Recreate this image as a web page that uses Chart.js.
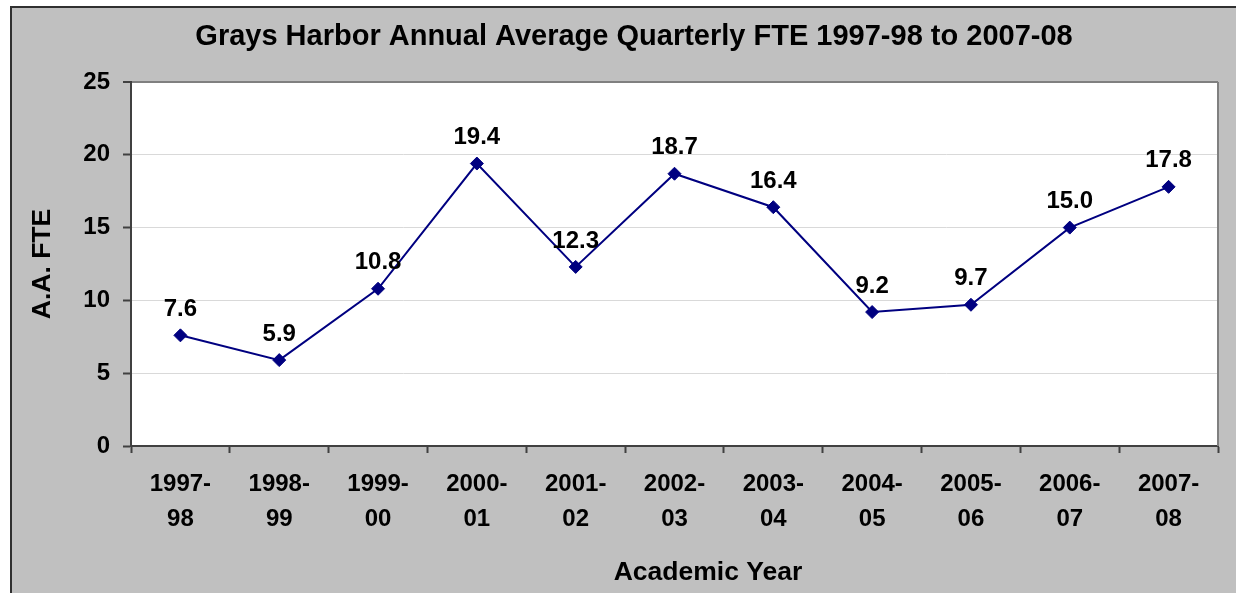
<!DOCTYPE html>
<html>
<head>
<meta charset="utf-8">
<script src="https://cdn.jsdelivr.net/npm/chart.js@4.4.0/dist/chart.umd.min.js"></script>
<style>
    html, body { margin: 0; padding: 0; background: #ffffff; }
    #chart { display: block; }
</style>
</head>
<body>
<canvas id="chart" width="1236" height="593"></canvas>
<script>
// ========================================
// Data
// ========================================
const years = [
    ['1997-', '98'], ['1998-', '99'], ['1999-', '00'], ['2000-', '01'],
    ['2001-', '02'], ['2002-', '03'], ['2003-', '04'], ['2004-', '05'],
    ['2005-', '06'], ['2006-', '07'], ['2007-', '08']
];
const fteValues = [7.6, 5.9, 10.8, 19.4, 12.3, 18.7, 16.4, 9.2, 9.7, 15.0, 17.8];
const yTicks = [0, 5, 10, 15, 20, 25];

const chartTitle = 'Grays Harbor Annual Average Quarterly FTE 1997-98 to 2007-08';
const xTitle = 'Academic Year';
const yTitle = 'A.A. FTE';

const FONT = '"Liberation Sans", Arial, sans-serif';
const NAVY = '#000080';

// Background, frame, plot area, titles
const framePlugin = {
    id: 'frame',
    beforeDraw(chart) {
        const { ctx, chartArea: a } = chart;
        ctx.save();
        ctx.fillStyle = '#ffffff';
        ctx.fillRect(0, 0, chart.width, chart.height);
        ctx.fillStyle = '#C0C0C0';
        ctx.fillRect(11, 7, chart.width, chart.height);
        ctx.strokeStyle = '#303030';
        ctx.lineWidth = 2;
        ctx.beginPath();
        ctx.moveTo(11, chart.height);
        ctx.lineTo(11, 7);
        ctx.lineTo(chart.width, 7);
        ctx.stroke();
        ctx.fillStyle = '#ffffff';
        ctx.fillRect(a.left, a.top, a.right - a.left, a.bottom - a.top);
        ctx.restore();
    },
    afterDraw(chart) {
        const { ctx, chartArea: a } = chart;
        ctx.save();
        // right edge of plot area
        ctx.strokeStyle = '#808080';
        ctx.lineWidth = 2;
        ctx.beginPath();
        ctx.moveTo(a.right, a.top);
        ctx.lineTo(a.right, a.bottom);
        ctx.stroke();

        ctx.fillStyle = '#000000';
        ctx.textAlign = 'center';
        ctx.textBaseline = 'middle';
        ctx.font = 'bold 29px ' + FONT;
        ctx.fillText(chartTitle, 634, 37);
        ctx.font = 'bold 26.5px ' + FONT;
        ctx.fillText(xTitle, 708, 573);
        ctx.translate(43, (a.top + a.bottom) / 2);
        ctx.rotate(-Math.PI / 2);
        ctx.fillText(yTitle, 0, 0);
        ctx.restore();
    }
};

// Value labels above the points
const valueLabels = {
    id: 'valueLabels',
    afterDatasetsDraw(chart) {
        const { ctx } = chart;
        const meta = chart.getDatasetMeta(0);
        ctx.save();
        ctx.fillStyle = '#000000';
        ctx.font = 'bold 24px ' + FONT;
        ctx.textAlign = 'center';
        ctx.textBaseline = 'middle';
        meta.data.forEach((pt, i) => {
            ctx.fillText(fteValues[i].toFixed(1), pt.x, pt.y - 26);
        });
        ctx.restore();
    }
};

new Chart(document.getElementById('chart'), {
    type: 'line',
    data: {
        labels: years,
        datasets: [{
            data: fteValues,
            borderColor: NAVY,
            backgroundColor: NAVY,
            borderWidth: 2,
            pointStyle: 'rectRot',
            pointRadius: 6.5,
            pointHoverRadius: 6.5,
            pointBorderWidth: 1,
            pointBackgroundColor: NAVY,
            pointBorderColor: NAVY,
            tension: 0
        }]
    },
    options: {
        responsive: false,
        animation: false,
        layout: { padding: { left: 0, right: 18, top: 82, bottom: 0 } },
        plugins: {
            legend: { display: false },
            title: { display: false },
            tooltip: { enabled: false }
        },
        scales: {
            x: {
                offset: true,
                afterFit: s => { s.height = 147; },
                grid: {
                    offset: true,
                    drawOnChartArea: false,
                    drawTicks: true,
                    tickLength: 7,
                    tickColor: '#404040',
                    tickWidth: 2
                },
                border: { color: '#404040', width: 2 },
                ticks: {
                    color: '#000000',
                    padding: 14,
                    maxRotation: 0,
                    autoSkip: false,
                    font: { family: FONT, size: 24, weight: 'bold', lineHeight: 1.45 }
                }
            },
            y: {
                min: 0,
                max: 25,
                afterFit: s => { s.width = 131; },
                afterBuildTicks: s => { s.ticks = yTicks.map(v => ({ value: v })); },
                grid: {
                    color: c => c.tick && c.tick.value === 25 ? '#808080' : '#D9D9D9',
                    lineWidth: c => c.tick && c.tick.value === 25 ? 2 : 1,
                    tickLength: 8,
                    tickColor: '#404040',
                    tickWidth: 2
                },
                border: { color: '#404040', width: 2 },
                ticks: {
                    color: '#000000',
                    padding: 13,
                    font: { family: FONT, size: 24, weight: 'bold' }
                }
            }
        }
    },
    plugins: [framePlugin, valueLabels]
});
</script>
</body>
</html>
